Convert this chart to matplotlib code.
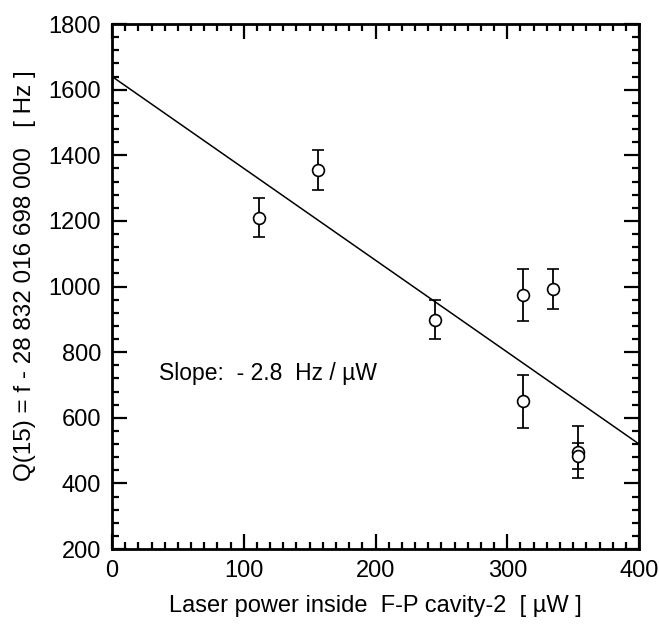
import matplotlib
matplotlib.use('Agg')
import matplotlib.pyplot as plt
import numpy as np
from matplotlib.ticker import MultipleLocator

# measured frequency offsets vs. intracavity laser power
power = [111.5, 156, 245, 312, 334.5, 312, 353.5, 353.5]
q15 = [1210, 1355, 899, 974, 992, 650, 496, 484]
q15_err = [60, 60, 60, 80, 60, 80, 80, 40]

# linear fit
fit_intercept = 1640
fit_slope = -2.8
fit_x = [0, 400]

plt.rcParams['font.family'] = ['Liberation Sans', 'DejaVu Sans']

fig = plt.figure(figsize=(6.59, 6.27), dpi=100)
ax = fig.add_axes([0.170, 0.1244, 0.7997, 0.8373])

fx = np.array(fit_x, dtype=float)
ax.plot(fx, fit_intercept + fit_slope * fx, '-', color='black', linewidth=1.1)

ax.errorbar(power, q15, yerr=q15_err, fmt='o', color='black',
            markerfacecolor='white', markeredgecolor='black',
            markersize=8.5, markeredgewidth=1.2, elinewidth=1.3,
            capsize=4, capthick=1.3, zorder=3)

ax.text(36, 735, 'Slope:  - 2.8  Hz / µW', fontsize=16.5, va='center', ha='left')

ax.set_xlim(0, 400)
ax.set_ylim(200, 1800)
ax.xaxis.set_major_locator(MultipleLocator(100))
ax.xaxis.set_minor_locator(MultipleLocator(10))
ax.yaxis.set_major_locator(MultipleLocator(200))
ax.yaxis.set_minor_locator(MultipleLocator(40))
ax.tick_params(which='both', direction='in', top=True, right=True, width=1.6,
               labelsize=17, pad=8)
ax.tick_params(which='major', length=11)
ax.tick_params(which='minor', length=5)
for s in ax.spines.values():
    s.set_linewidth(2)

ax.set_xlabel('Laser power inside  F-P cavity-2  [ µW ]', fontsize=17, labelpad=9)
ax.set_ylabel('Q(15) = f - 28 832 016 698 000   [ Hz ]', fontsize=17.5, labelpad=9)
ax.yaxis.set_label_coords(-0.145, 0.52)

fig.savefig('out.png', dpi=100)
